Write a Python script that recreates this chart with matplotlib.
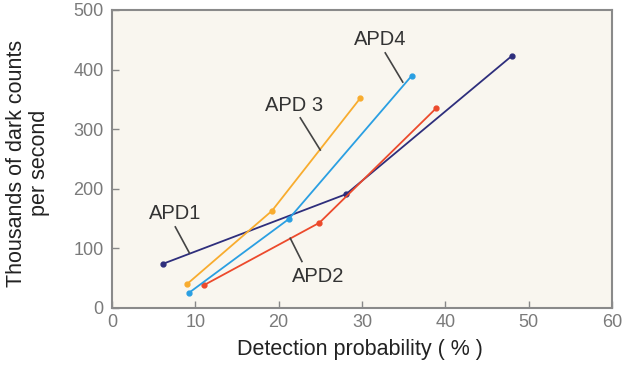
import matplotlib
matplotlib.use("Agg")
import matplotlib.pyplot as plt

plt.rcParams['font.family'] = ['Liberation Sans', 'DejaVu Sans']

series_names = ["APD1", "APD2", "APD 3", "APD4"]
apd1_x = [6.1, 28.1, 48.0]
apd1_y = [74, 191, 423]
apd2_x = [11.0, 24.9, 38.9]
apd2_y = [38, 143, 335]
apd3_x = [9.0, 19.2, 29.8]
apd3_y = [40, 163, 352]
apd4_x = [9.2, 21.2, 36.0]
apd4_y = [25, 149, 390]
xticks = [0, 10, 20, 30, 40, 50, 60]
yticks = [0, 100, 200, 300, 400, 500]

colors = ["#2e2e7c", "#ec4a2c", "#f8ac2e", "#2a9fe2"]

fig = plt.figure(figsize=(6.4, 3.84), dpi=100)
ax = fig.add_axes([0.175, 0.198, 0.781, 0.776])
ax.set_facecolor("#f9f6ef")

data = [(apd1_x, apd1_y), (apd2_x, apd2_y), (apd3_x, apd3_y), (apd4_x, apd4_y)]
for (xs, ys), c in zip(data, colors):
    ax.plot(xs, ys, color=c, lw=1.3, marker='o', ms=3.5, zorder=3)

# labels with leader lines
labels = [
    ("APD1", (7.6, 159), (7.6, 136), (9.3, 92)),
    ("APD2", (24.7, 52), (22.8, 78), (21.4, 117)),
    ("APD 3", (21.8, 340), (22.6, 319), (25.0, 265)),
    ("APD4", (32.2, 450), (32.8, 428), (34.9, 379)),
]
for txt, tpos, l0, l1 in labels:
    ax.text(tpos[0], tpos[1], txt, ha='center', va='center', fontsize=14.5, color="#333333")
    ax.plot([l0[0], l1[0]], [l0[1], l1[1]], color="#444444", lw=1.2, zorder=4)

ax.set_xlim(0, 60)
ax.set_ylim(0, 500)
ax.set_xticks(xticks)
ax.set_yticks(yticks)
ax.tick_params(direction='in', length=5, width=1, color="#888888",
               labelcolor="#7a7a7a", labelsize=13)
ax.tick_params(axis='y', pad=6)
ax.tick_params(axis='x', pad=4)
for s in ax.spines.values():
    s.set_color("#8a8a8a")
    s.set_linewidth(1.5)

fig.text(360 / 640, 1 - 349 / 384, "Detection probability ( % )", ha='center', va='center',
         fontsize=15.5, color="#222222")
fig.text(28 / 640, 1 - 163 / 384, "Thousands of dark counts\nper second", ha='center',
         va='center', rotation=90, multialignment='center', fontsize=15.5,
         color="#222222", linespacing=1.15)

fig.savefig("out.png", dpi=100, facecolor="white")
